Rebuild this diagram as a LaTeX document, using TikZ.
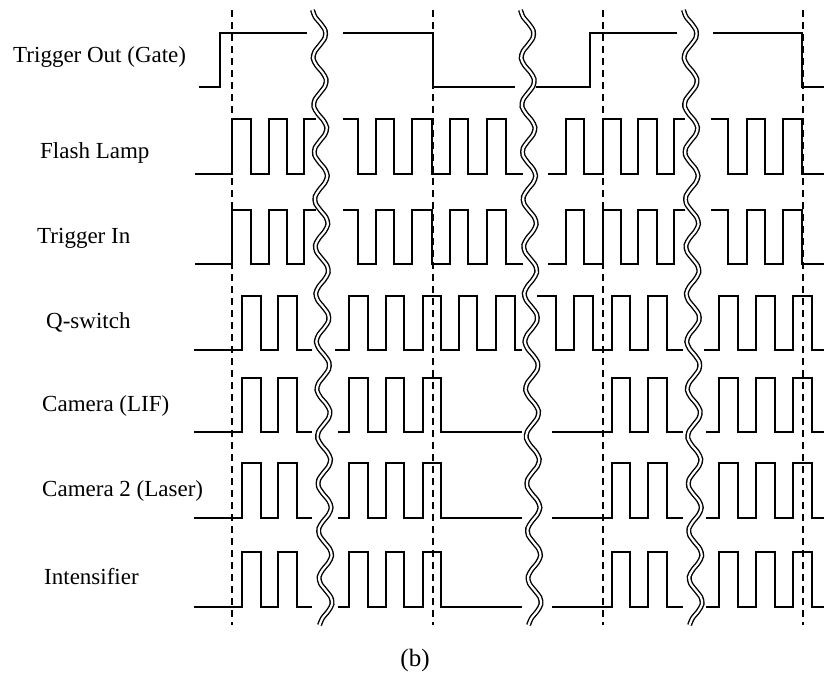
\documentclass[tikz,border=0pt]{standalone}
\usepackage{fontspec}
\setmainfont{Liberation Serif}
\begin{document}
\begin{tikzpicture}[x=1pt,y=-1pt,
    sig/.style={line width=1.6pt},
    guide/.style={line width=1.3pt, dash pattern=on 7pt off 5pt},
    cut/.style={line width=1.4pt, double=white, double distance=2.2pt},
    lab/.style={anchor=west, inner sep=0pt, font=\fontsize{23}{27}\selectfont}]
            % Fix the page size
            \useasboundingbox (0,0) rectangle (824,681);

            % Add the signal names
            \node[lab] (gate) at (13,57) {Trigger Out (Gate)};
            \node[lab] (lamp) at (40,153) {Flash Lamp};
            \node[lab] (trigin) at (37,238) {Trigger In};
            \node[lab] (qsw) at (46,322) {Q-switch};
            \node[lab] (camlif) at (42,406) {Camera (LIF)};
            \node[lab] (camlaser) at (42,491) {Camera 2 (Laser)};
            \node[lab] (intens) at (44,577) {Intensifier};
            \node[inner sep=0pt, font=\fontsize{25}{30}\selectfont] (caption) at (415,660) {(b)};

            % Draw the vertical dashed markers
            \foreach \x in {232,433,603,803}
                \draw[guide] (\x,10) -- (\x,625);

            % Draw the gate signal
            \draw[sig] (199,87) -| (220,33) -- (307,33);
            \draw[sig] (343,33) -| (433,87) -- (515,87);
            \draw[sig] (536,87) -| (590,33) -- (677,33);
            \draw[sig] (713,33) -| (802,87) -- (824,87);

            % Draw the flash lamp and trigger in pulses
            \foreach \hi/\lo in {119/174, 210/264} {
                \draw[sig] (195,\lo) -| (232,\hi) -| (251,\lo) -| (269,\hi) -| (287,\lo) -| (304,\hi) -- (316,\hi);
                \draw[sig] (343,\hi) -| (358,\lo) -| (376,\hi) -| (394,\lo) -| (412,\hi) -| (432,\lo) -| (450,\hi) -| (468,\lo) -| (487,\hi) -| (506,\lo) -- (523,\lo);
                \draw[sig] (548,\lo) -| (566,\hi) -| (584,\lo) -| (603,\hi) -| (621,\lo) -| (638,\hi) -| (657,\lo) -| (674,\hi) -- (685,\hi);
                \draw[sig] (711,\hi) -| (728,\lo) -| (747,\hi) -| (765,\lo) -| (783,\hi) -| (802,\lo) -- (824,\lo);
            }

            % Draw the Q-switch pulses
            \draw[sig] (194,350) -| (242,296) -| (261,350) -| (278,296) -| (297,350) -- (312,350);
            \draw[sig] (335,350) -| (349,296) -| (368,350) -| (386,296) -| (404,350) -| (423,296) -| (441,350) -| (459,296) -| (477,350) -| (496,296) -| (515,350) -- (522,350);
            \draw[sig] (537,296) -| (556,350) -| (574,296) -| (593,350) -| (612,296) -| (630,350) -| (648,296) -| (667,350) -- (683,350);
            \draw[sig] (704,350) -| (719,296) -| (738,350) -| (756,296) -| (775,350) -| (793,296) -| (812,350) -- (824,350);

            % Draw the camera and intensifier pulses
            \foreach \hi/\lo in {378/432, 463/518, 552/607} {
                \draw[sig] (194,\lo) -| (242,\hi) -| (261,\lo) -| (278,\hi) -| (297,\lo) -- (312,\lo);
                \draw[sig] (338,\lo) -| (349,\hi) -| (368,\lo) -| (386,\hi) -| (404,\lo) -| (423,\hi) -| (441,\lo) -- (522,\lo);
                \draw[sig] (552,\lo) -| (612,\hi) -| (630,\lo) -| (648,\hi) -| (667,\lo) -- (683,\lo);
                \draw[sig] (706,\lo) -| (719,\hi) -| (738,\lo) -| (756,\hi) -| (775,\lo) -| (793,\hi) -| (812,\lo) -- (824,\lo);
            }

            % Draw the wavy time breaks
            \foreach \cx/\dx in {319/7, 527/8, 690/6}
                \draw[cut] plot[smooth, variable=\t, domain=10:625, samples=90]
                    ({\cx+\dx*(\t-10)/615-6.5*cos(7.6*(\t-10))}, \t);

        \end{tikzpicture}
\end{document}
